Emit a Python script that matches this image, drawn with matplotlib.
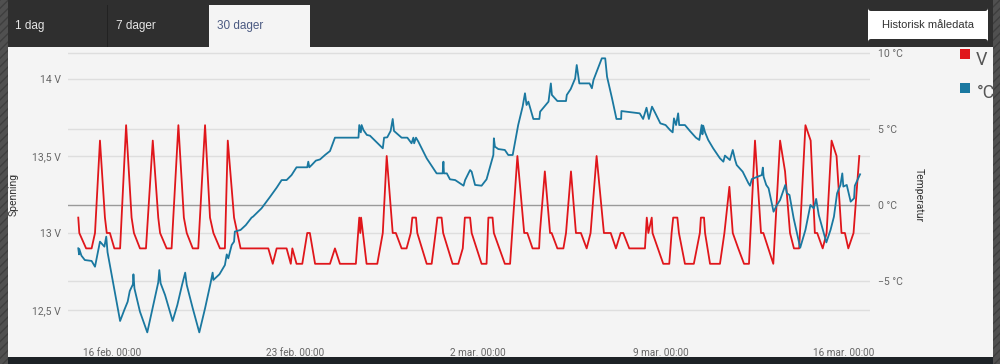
import pandas as pd
import matplotlib
matplotlib.use("Agg")
import matplotlib.pyplot as plt
from matplotlib.patches import Rectangle, FancyBboxPatch
from matplotlib.transforms import Affine2D, blended_transform_factory

# days after 16 feb. 00:00
volt_days = [-1.29, -1.25, -0.99, -0.78, -0.65, -0.46, -0.27, -0.20, -0.08, 0.09,
             0.31, 0.54, 0.75, 0.84, 1.07, 1.30, 1.56, 1.77, 1.84, 2.09,
             2.28, 2.54, 2.75, 2.86, 3.09, 3.30, 3.56, 3.75, 3.88, 4.13,
             4.32, 4.43, 4.67, 4.92, 5.98, 6.15, 6.30, 6.68, 6.84, 6.90,
             7.06, 7.28, 7.47, 7.57, 7.77, 8.34, 8.53, 8.72, 9.33, 9.46,
             9.50, 9.53, 9.74, 10.15, 10.36, 10.51, 10.74, 10.86, 11.08, 11.27,
             11.43, 11.49, 11.63, 11.68, 12.04, 12.23, 12.38, 12.45, 12.61, 12.67,
             13.03, 13.25, 13.42, 13.50, 13.70, 13.76, 14.14, 14.33, 14.40, 14.56,
             14.61, 15.03, 15.23, 15.51, 15.77, 15.89, 16.09, 16.34, 16.37, 16.56,
             16.76, 16.82, 17.04, 17.27, 17.37, 17.56, 17.75, 17.94, 18.16, 18.31,
             18.54, 18.82, 19.08, 19.28, 19.46, 19.56, 19.79, 20.39, 20.46, 20.52,
             20.65, 20.68, 21.09, 21.32, 21.41, 21.47, 21.63, 21.69, 21.92, 22.26,
             22.49, 22.53, 22.65, 22.69, 22.88, 23.26, 23.43, 23.62, 23.75, 23.96,
             24.18, 24.37, 24.60, 24.83, 24.92, 25.30, 25.56, 25.75, 25.94, 26.09,
             26.29, 26.53, 26.73, 26.89, 26.98, 27.19, 27.34, 27.53, 27.72, 27.91,
             28.04, 28.17, 28.37, 28.59]
volt_vals = [13.1, 13.0, 12.9, 12.9, 13.0, 13.6, 13.1, 13.0, 13.0, 12.9,
             12.9, 13.7, 13.1, 13.0, 12.9, 12.9, 13.6, 13.1, 13.0, 12.9,
             12.9, 13.7, 13.1, 13.0, 12.9, 12.9, 13.7, 13.1, 13.0, 12.9,
             12.9, 13.6, 13.1, 12.9, 12.9, 12.8, 12.9, 12.9, 12.8, 12.9,
             12.8, 12.8, 13.0, 13.0, 12.8, 12.8, 12.9, 12.8, 12.8, 13.1,
             13.0, 13.1, 12.8, 12.8, 13.0, 13.5, 13.0, 13.0, 12.9, 12.9,
             13.0, 13.1, 13.1, 13.0, 12.8, 12.8, 13.0, 13.1, 13.1, 13.0,
             12.8, 12.8, 12.9, 13.1, 13.1, 13.0, 12.8, 12.8, 13.1, 13.1,
             13.0, 12.8, 12.8, 13.5, 13.0, 13.0, 12.9, 12.9, 13.0, 13.4,
             13.0, 13.0, 12.9, 12.9, 13.0, 13.4, 13.0, 13.0, 12.9, 13.0,
             13.5, 13.0, 13.0, 12.9, 13.0, 13.0, 12.9, 12.9, 13.1, 13.0,
             13.1, 13.0, 12.8, 12.8, 13.0, 13.1, 13.1, 13.0, 12.8, 12.8,
             13.0, 13.1, 13.1, 13.0, 12.8, 12.8, 13.0, 13.3, 13.0, 12.9,
             12.8, 12.8, 13.6, 13.0, 13.0, 12.8, 13.6, 13.4, 13.0, 12.9,
             12.9, 13.7, 13.6, 13.0, 13.0, 12.9, 13.0, 13.6, 13.5, 13.0,
             13.0, 12.9, 13.0, 13.5]

temp_days = [-1.29, -1.26, -1.25, -1.17, -1.04, -0.78, -0.65, -0.46, -0.29, -0.22,
             -0.17, -0.08, 0.31, 0.47, 0.60, 0.68, 0.80, 0.82, 0.86, 1.07,
             1.35, 1.58, 1.77, 1.81, 1.86, 2.03, 2.32, 2.50, 2.68, 2.80,
             2.86, 3.09, 3.34, 3.56, 3.77, 3.85, 3.88, 4.11, 4.32, 4.39,
             4.45, 4.58, 4.67, 4.70, 4.92, 5.12, 5.34, 5.40, 5.72, 6.04,
             6.30, 6.49, 6.68, 6.87, 7.06, 7.47, 7.51, 7.55, 7.64, 7.80,
             7.96, 8.15, 8.34, 8.53, 9.43, 9.46, 9.52, 9.55, 9.62, 9.75,
             9.87, 10.36, 10.41, 10.53, 10.66, 10.74, 10.79, 10.89, 11.08, 11.30,
             11.46, 11.53, 11.56, 11.63, 11.72, 12.04, 12.42, 12.65, 12.68, 12.70,
             12.81, 12.93, 13.13, 13.45, 13.51, 13.70, 13.76, 13.89, 14.14, 14.33,
             14.52, 14.59, 14.61, 14.65, 14.78, 15.03, 15.16, 15.33, 15.54, 15.71,
             15.80, 15.86, 15.93, 16.12, 16.35, 16.38, 16.70, 16.79, 16.83, 17.04,
             17.37, 17.40, 17.55, 17.72, 17.78, 17.88, 18.27, 18.36, 18.42, 18.74,
             18.87, 18.94, 19.13, 19.30, 19.48, 19.49, 20.19, 20.32, 20.45, 20.54,
             20.66, 20.79, 20.98, 21.18, 21.35, 21.45, 21.50, 21.58, 21.66, 21.70,
             21.92, 22.11, 22.34, 22.47, 22.56, 22.59, 22.62, 22.69, 22.81, 23.00,
             23.26, 23.39, 23.45, 23.64, 23.75, 23.84, 23.90, 24.13, 24.35, 24.41,
             24.48, 24.86, 24.90, 24.93, 25.03, 25.12, 25.31, 25.44, 25.56, 25.76,
             25.82, 25.92, 26.08, 26.33, 26.53, 26.72, 26.85, 26.94, 27.04, 27.33,
             27.49, 27.62, 27.74, 27.87, 27.94, 27.98, 28.11, 28.26, 28.39, 28.42,
             28.62]
temp_vals = [-2.85, -3.25, -2.90, -3.33, -3.62, -3.68, -4.06, -2.41, -2.74, -2.08,
             -3.11, -3.95, -7.63, -6.91, -6.36, -5.66, -5.22, -4.56, -5.50, -7.02,
             -8.38, -6.58, -5.09, -4.28, -5.15, -5.92, -7.63, -6.58, -5.26, -4.45,
             -5.26, -6.80, -8.38, -6.80, -5.15, -4.45, -4.93, -4.56, -3.95, -3.25,
             -3.51, -2.63, -2.41, -1.75, -1.64, -1.32, -0.83, -0.76, -0.22, 0.52,
             1.14, 1.64, 1.64, 1.97, 2.48, 2.48, 2.85, 2.48, 2.63, 2.92,
             3.00, 3.29, 3.55, 4.43, 4.43, 5.26, 4.78, 5.26, 4.93, 4.61,
             4.56, 3.73, 4.43, 4.45, 4.87, 5.66, 4.87, 4.72, 4.43, 4.43,
             4.06, 4.43, 4.06, 4.43, 4.17, 3.07, 2.08, 2.08, 2.85, 2.08,
             2.08, 1.69, 1.64, 1.27, 1.64, 2.30, 2.19, 1.32, 1.27, 1.69,
             2.85, 3.29, 4.39, 3.84, 3.68, 3.62, 3.29, 3.29, 5.26, 6.47,
             7.35, 6.58, 6.80, 5.66, 5.66, 6.14, 6.80, 8.00, 7.24, 6.84,
             6.84, 7.24, 7.63, 8.33, 9.21, 8.00, 8.00, 7.68, 8.22, 9.65,
             9.65, 8.44, 7.02, 5.66, 5.66, 6.18, 6.03, 5.66, 6.40, 5.66,
             6.47, 6.03, 5.37, 5.26, 4.93, 4.78, 5.70, 5.26, 6.03, 5.26,
             5.26, 4.87, 4.43, 4.28, 5.26, 4.65, 5.22, 4.78, 4.28, 3.73,
             3.07, 2.85, 3.25, 2.96, 3.62, 2.96, 2.63, 2.19, 1.43, 1.27,
             1.71, 1.97, 2.46, 1.86, 1.32, 1.10, -0.44, 0.00, 0.33, 1.32,
             0.77, 0.66, -0.88, -2.81, -1.64, 0.00, -0.22, 0.40, -0.66, -2.46,
             -1.64, -0.77, 0.77, 1.32, 2.08, 1.21, 1.32, 0.22, 0.44, 1.27,
             2.02]

volt_ticks = [12.5, 13.0, 13.5, 14.0]
volt_labels = ["12,5 V", "13 V", "13,5 V", "14 V"]
temp_ticks = [-5, 0, 5, 10]
temp_labels = ["\u22125 \u00b0C", "0 \u00b0C", "5 \u00b0C", "10 \u00b0C"]
x_tick_dates = ["2025-02-16", "2025-02-23", "2025-03-02", "2025-03-09", "2025-03-16"]
x_tick_labels = ["16 feb. 00:00", "23 feb. 00:00", "2 mar. 00:00", "9 mar. 00:00", "16 mar. 00:00"]
tabs = ["1 dag", "7 dager", "30 dager"]

RED = "#e0161b"
BLUE = "#1a78a0"
PANEL = "#f4f4f4"

start = pd.Timestamp("2025-02-16")
vx = (start + pd.to_timedelta(volt_days, unit="D")).to_numpy()
tx = (start + pd.to_timedelta(temp_days, unit="D")).to_numpy()

fig = plt.figure(figsize=(10, 3.64), dpi=100)
fig.patch.set_facecolor("#2f2f2f")
# pixel coords, origin top-left
pix = Affine2D().scale(1 / 100, -1 / 100).translate(0, 3.64) + fig.dpi_scale_trans


def rect(x0, y0, x1, y1, z=-5, **kw):
    fig.add_artist(Rectangle((x0, y1), x1 - x0, y0 - y1, transform=pix, zorder=z, **kw))


# page frame (behind the axes)
rect(0, 0, 8, 364, facecolor="#505050", edgecolor="#3e3e3e", hatch="////", linewidth=0)
rect(993, 0, 1000, 364, facecolor="#505050", edgecolor="#3e3e3e", hatch="////", linewidth=0)
rect(8, 47, 993, 357, facecolor=PANEL, linewidth=0)
rect(8, 357, 993, 364, facecolor="#1d2226", linewidth=0)
rect(107, 5, 108, 47, facecolor="#222222", linewidth=0)
rect(209, 5, 310, 47, facecolor=PANEL, linewidth=0)

fig.text(15, 26, tabs[0], transform=pix, color="#e6e6e6", fontsize=8.5,
         family="Liberation Sans", va="center")
fig.text(116, 26, tabs[1], transform=pix, color="#e6e6e6", fontsize=8.5,
         family="Liberation Sans", va="center")
fig.text(217, 26, tabs[2], transform=pix, color="#4b5a82", fontsize=8.5,
         family="Liberation Sans", va="center")

btn = FancyBboxPatch((868, 39), 120, -28, boxstyle="round,pad=0,rounding_size=3",
                     transform=pix, facecolor="white", edgecolor="none")
fig.add_artist(btn)
fig.text(928, 25, "Historisk m\u00e5ledata", transform=pix, color="#333333",
         fontsize=8, family="Liberation Sans", ha="center", va="center")

# legend
rect(960, 49, 970, 59, z=3, facecolor=RED, linewidth=0)
rect(960, 83, 970, 93, z=3, facecolor=BLUE, linewidth=0)
fig.text(976, 60, "V", transform=pix, color="#555555", fontsize=13, family="Roboto", va="center")
fig.text(977, 93, "\u00b0C", transform=pix, color="#555555", fontsize=13, family="Roboto", va="center")

# chart
ax = fig.add_axes([0.068, 1 - 340 / 364, 0.802, 292 / 364])
ax2 = ax.twinx()
ax.set_facecolor("none")
ax2.set_facecolor("none")

ax.set_ylim(13 - (340 - 233) / 154, 13 + (233 - 48) / 154)
ax2.set_ylim(-(340 - 205) / 15.2, (205 - 48) / 15.2)
ax.set_xlim(start - pd.Timedelta(days=1.683), start + pd.Timedelta(days=29.0))

# grid lines for both scales, drawn under the red series
for v in volt_ticks:
    ax.axhline(v, color="#dedede", linewidth=1, zorder=0)
tgrid = blended_transform_factory(ax.transAxes, ax2.transData)
for t in temp_ticks:
    ax.plot([0, 1], [t, t], transform=tgrid, color="#9a9a9a" if t == 0 else "#dedede",
            linewidth=1, zorder=0)

ax.plot(vx, volt_vals, color=RED, linewidth=1.3, zorder=2)
ax2.plot(tx, temp_vals, color=BLUE, linewidth=1.3, zorder=2)

ax.set_yticks(volt_ticks)
ax.set_yticklabels(volt_labels, fontsize=7.5, color="#666666", family="Roboto")
ax2.set_yticks(temp_ticks)
ax2.set_yticklabels(temp_labels, fontsize=7.5, color="#666666", family="Roboto")
ax.set_xticks(pd.to_datetime(x_tick_dates).to_numpy())
ax.set_xticklabels(x_tick_labels, fontsize=7.2, color="#666666", family="Roboto")

ax.tick_params(axis="y", length=0, pad=5)
ax2.tick_params(axis="y", length=0, pad=6)
ax.tick_params(axis="x", length=0, pad=6)
for a in (ax, ax2):
    for s in a.spines.values():
        s.set_visible(False)

fig.text(14, 194, "Spenning", transform=pix, rotation=90, color="#333333",
         fontsize=7.5, family="Roboto", ha="center", va="center")
fig.text(919, 195, "Temperatur", transform=pix, rotation=270, color="#333333",
         fontsize=7.5, family="Roboto", ha="center", va="center")

fig.savefig("out.png", dpi=100, facecolor=fig.get_facecolor())
